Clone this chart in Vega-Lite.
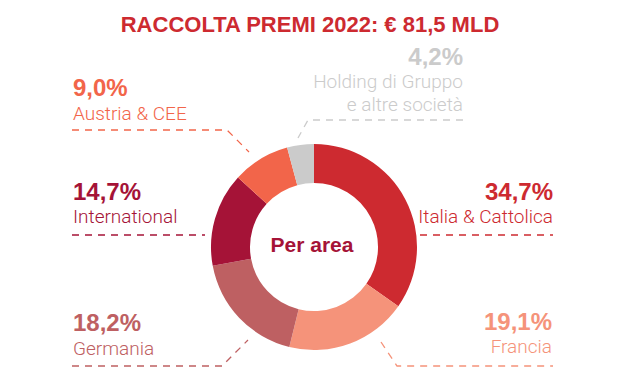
{
  "$schema": "https://vega.github.io/schema/vega-lite/v6.json",
  "width": 624,
  "height": 383,
  "autosize": {"type": "fit", "contains": "padding"},
  "padding": 0,
  "background": "white",
  "config": {"view": {"stroke": null}},
  "datasets": {
    "areas": [
      {"area": "Italia & Cattolica", "pct": 34.7, "ord": 1, "cx": 314, "cy": 247},
      {"area": "Francia", "pct": 19.1, "ord": 2, "cx": 314, "cy": 247},
      {"area": "Germania", "pct": 18.2, "ord": 3, "cx": 314, "cy": 247},
      {"area": "International", "pct": 14.7, "ord": 4, "cx": 314, "cy": 247},
      {"area": "Austria & CEE", "pct": 9.0, "ord": 5, "cx": 314, "cy": 247},
      {"area": "Holding di Gruppo e altre società", "pct": 4.2, "ord": 6, "cx": 314, "cy": 247}
    ],
    "labels": [
      {"area": "Austria & CEE", "kind": "value", "side": "left", "text": "9,0%", "x": 73, "y": 96},
      {"area": "Austria & CEE", "kind": "name", "side": "left", "text": "Austria & CEE", "x": 73, "y": 120},
      {"area": "International", "kind": "value", "side": "left", "text": "14,7%", "x": 73, "y": 200},
      {"area": "International", "kind": "name", "side": "left", "text": "International", "x": 73, "y": 223},
      {"area": "Germania", "kind": "value", "side": "left", "text": "18,2%", "x": 73, "y": 331},
      {"area": "Germania", "kind": "name", "side": "left", "text": "Germania", "x": 73, "y": 355},
      {"area": "Holding di Gruppo e altre società", "kind": "value", "side": "right", "text": "4,2%", "x": 463, "y": 65},
      {"area": "Holding di Gruppo e altre società", "kind": "name", "side": "right", "text": "Holding di Gruppo", "x": 463, "y": 88},
      {"area": "Holding di Gruppo e altre società", "kind": "name", "side": "right", "text": "e altre società", "x": 463, "y": 111},
      {"area": "Italia & Cattolica", "kind": "value", "side": "right", "text": "34,7%", "x": 553, "y": 200},
      {"area": "Italia & Cattolica", "kind": "name", "side": "right", "text": "Italia & Cattolica", "x": 553, "y": 223},
      {"area": "Francia", "kind": "value", "side": "right", "text": "19,1%", "x": 552, "y": 330},
      {"area": "Francia", "kind": "name", "side": "right", "text": "Francia", "x": 552, "y": 353}
    ],
    "leaders": [
      {"area": "Austria & CEE", "seq": 1, "x": 72, "y": 130},
      {"area": "Austria & CEE", "seq": 2, "x": 227, "y": 130},
      {"area": "Austria & CEE", "seq": 3, "x": 249, "y": 152},
      {"area": "International", "seq": 1, "x": 72, "y": 235},
      {"area": "International", "seq": 2, "x": 205, "y": 235},
      {"area": "Germania", "seq": 1, "x": 72, "y": 366},
      {"area": "Germania", "seq": 2, "x": 222, "y": 366},
      {"area": "Germania", "seq": 3, "x": 248, "y": 340},
      {"area": "Holding di Gruppo e altre società", "seq": 1, "x": 463, "y": 120},
      {"area": "Holding di Gruppo e altre società", "seq": 2, "x": 308, "y": 120},
      {"area": "Holding di Gruppo e altre società", "seq": 3, "x": 298, "y": 138},
      {"area": "Italia & Cattolica", "seq": 1, "x": 420, "y": 235},
      {"area": "Italia & Cattolica", "seq": 2, "x": 553, "y": 235},
      {"area": "Francia", "seq": 1, "x": 381, "y": 342},
      {"area": "Francia", "seq": 2, "x": 397, "y": 366},
      {"area": "Francia", "seq": 3, "x": 553, "y": 366}
    ],
    "titles": [
      {"text": "RACCOLTA PREMI 2022: € 81,5 MLD", "x": 310, "y": 32},
      {"text": "Per area", "x": 312, "y": 252}
    ]
  },
  "encoding": {
    "x": {"field": "x", "type": "quantitative", "scale": {"domain": [0, 624]}, "axis": null},
    "y": {"field": "y", "type": "quantitative", "scale": {"domain": [0, 383], "reverse": true}, "axis": null},
    "color": {
      "field": "area", "type": "nominal", "legend": null,
      "scale": {
        "domain": ["Italia & Cattolica", "Francia", "Germania", "International", "Austria & CEE", "Holding di Gruppo e altre società"],
        "range": ["#CD2A30", "#F5937A", "#BE6062", "#A51337", "#F2654A", "#CBCBCB"]
      }
    }
  },
  "layer": [
    {
      "data": {"name": "areas"},
      "mark": {"type": "arc", "outerRadius": 103, "innerRadius": 64},
      "encoding": {
        "x": {"field": "cx", "type": "quantitative"},
        "y": {"field": "cy", "type": "quantitative"},
        "theta": {"field": "pct", "type": "quantitative", "stack": true},
        "order": {"field": "ord", "type": "quantitative"}
      }
    },
    {
      "data": {"name": "leaders"},
      "mark": {"type": "line", "strokeDash": [7, 6], "strokeWidth": 1.3, "interpolate": "linear"},
      "encoding": {
        "order": {"field": "seq", "type": "quantitative"}
      }
    },
    {
      "data": {"name": "labels"},
      "transform": [{"filter": "datum.kind == 'value' && datum.side == 'left'"}],
      "mark": {"type": "text", "align": "left", "baseline": "alphabetic", "font": "Liberation Sans", "fontWeight": "bold", "fontSize": 24},
      "encoding": {"text": {"field": "text"}}
    },
    {
      "data": {"name": "labels"},
      "transform": [{"filter": "datum.kind == 'value' && datum.side == 'right'"}],
      "mark": {"type": "text", "align": "right", "baseline": "alphabetic", "font": "Liberation Sans", "fontWeight": "bold", "fontSize": 24},
      "encoding": {"text": {"field": "text"}}
    },
    {
      "data": {"name": "labels"},
      "transform": [{"filter": "datum.kind == 'name' && datum.side == 'left'"}],
      "mark": {"type": "text", "align": "left", "baseline": "alphabetic", "font": "Roboto", "fontWeight": 300, "fontSize": 19},
      "encoding": {"text": {"field": "text"}}
    },
    {
      "data": {"name": "labels"},
      "transform": [{"filter": "datum.kind == 'name' && datum.side == 'right'"}],
      "mark": {"type": "text", "align": "right", "baseline": "alphabetic", "font": "Roboto", "fontWeight": 300, "fontSize": 19},
      "encoding": {"text": {"field": "text"}}
    },
    {
      "data": {"name": "titles"},
      "mark": {"type": "text", "align": "center", "baseline": "alphabetic", "font": "Liberation Sans", "fontWeight": "bold", "fontSize": 22},
      "transform": [{"filter": "datum.y < 100"}],
      "encoding": {"text": {"field": "text"}, "color": {"value": "#CD2A30"}}
    },
    {
      "data": {"name": "titles"},
      "mark": {"type": "text", "align": "center", "baseline": "alphabetic", "font": "Liberation Sans", "fontWeight": "bold", "fontSize": 21},
      "transform": [{"filter": "datum.y > 100"}],
      "encoding": {"text": {"field": "text"}, "color": {"value": "#A51337"}}
    }
  ]
}
